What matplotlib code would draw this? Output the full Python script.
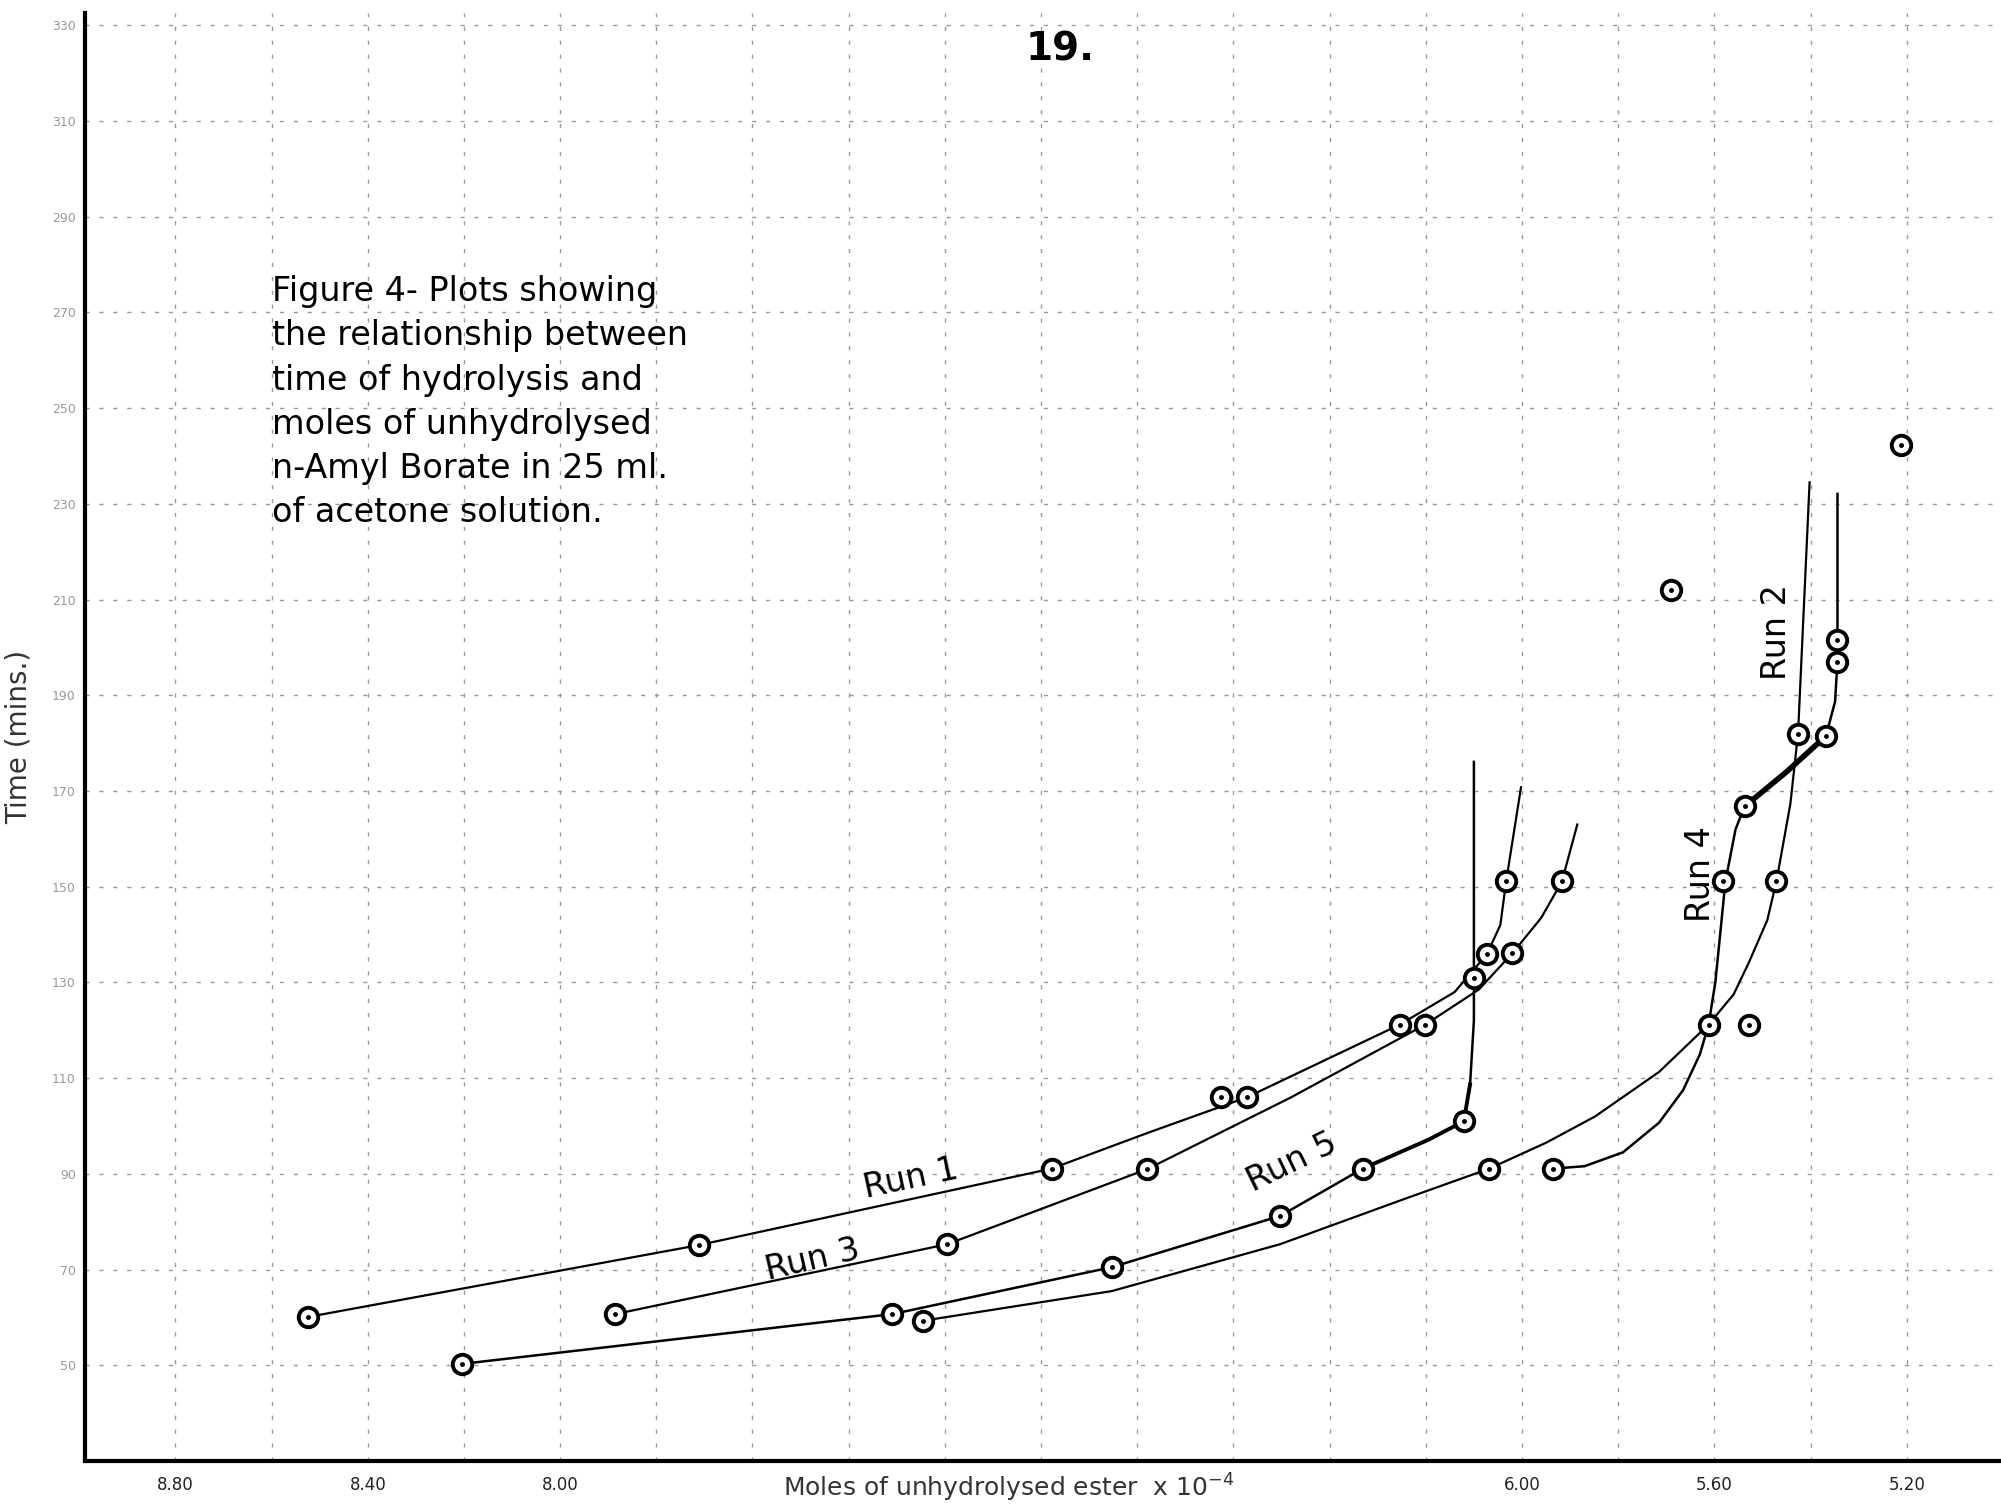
import numpy as np
import matplotlib
matplotlib.use('Agg')
import matplotlib.pyplot as plt
from matplotlib.ticker import MultipleLocator

# moles of unhydrolysed ester (x 10^-4) vs time of hydrolysis (mins)
run1_x = [8.524, 7.712, 6.978, 6.625, 6.572, 6.254, 6.073, 6.033]
run1_y = [60.1, 75.1, 91.1, 106.0, 106.0, 121.2, 135.9, 151.1]

run3_x = [7.885, 7.195, 6.779, 6.201, 6.020, 5.917]
run3_y = [60.7, 75.3, 91.0, 121.2, 136.1, 151.1]

run5_x = [8.203, 7.309, 7.246, 6.853, 6.503, 6.331, 6.121, 6.100]
run5_y = [50.3, 60.7, 59.3, 70.5, 81.2, 91.1, 101.0, 131.0]

run2_x = [6.068, 5.612, 5.471, 5.426]
run2_y = [91.1, 121.2, 151.1, 182.0]

run4_x = [5.935, 5.582, 5.537, 5.368, 5.344, 5.344]
run4_y = [91.1, 151.1, 166.8, 181.5, 197.0, 201.5]

stray_x = [5.529, 5.691, 5.211]
stray_y = [121.2, 212.0, 242.3]

# hand drawn curves through the points
curve1_x = [8.524, 7.712, 6.978, 6.780, 6.572, 6.254, 6.140, 6.073, 6.045, 6.033, 6.002]
curve1_y = [60.1, 75.1, 91.1, 98.5, 106.0, 121.2, 128.0, 135.9, 142.0, 151.1, 170.8]

curve3_x = [7.885, 7.195, 6.779, 6.480, 6.201, 6.090, 6.020, 5.960, 5.917, 5.885]
curve3_y = [60.7, 75.3, 91.0, 106.0, 121.2, 128.5, 136.1, 143.5, 151.1, 163.0]

curve5_x = [8.203, 7.309, 6.853, 6.503, 6.331, 6.193, 6.121, 6.108, 6.100, 6.100, 6.100]
curve5_y = [50.3, 60.7, 70.5, 81.2, 91.1, 97.2, 101.0, 108.7, 122.0, 131.0, 176.1]

curve2_x = [7.246, 6.853, 6.503, 6.246, 6.068, 5.950, 5.848, 5.715, 5.612, 5.560, 5.529, 5.490, 5.471, 5.442, 5.426, 5.402]
curve2_y = [59.3, 65.5, 75.3, 84.7, 91.1, 96.5, 102.0, 111.3, 121.2, 127.5, 134.0, 143.0, 151.1, 167.3, 182.0, 234.5]

curve4_x = [5.935, 5.870, 5.790, 5.715, 5.665, 5.630, 5.612, 5.598, 5.590, 5.577, 5.556, 5.537, 5.450, 5.368, 5.349, 5.344, 5.344, 5.344]
curve4_y = [91.1, 91.6, 94.5, 100.7, 107.5, 115.0, 121.2, 130.0, 138.0, 151.1, 162.0, 166.8, 174.0, 181.5, 188.7, 197.0, 201.5, 232.1]

xtick_vals = [8.80, 8.40, 8.00, 6.00, 5.60, 5.20]
xtick_labels = ['8.80', '8.40', '8.00', '6.00', '5.60', '5.20']
ytick_vals = list(range(50, 331, 20))

run_labels = ['Run 1', 'Run 3', 'Run 5', 'Run 4', 'Run 2']
label_x = [7.270, 7.476, 6.479, 5.628, 5.471]
label_y = [88.9, 72.1, 92.4, 152.7, 203.3]
label_rot = [12, 13, 26, 90, 90]

note = ("Figure 4- Plots showing\n"
        "the relationship between\n"
        "time of hydrolysis and\n"
        "moles of unhydrolysed\n"
        "n-Amyl Borate in 25 ml.\n"
        "of acetone solution.")

fig = plt.figure(figsize=(20.01, 15.04), dpi=100)
ax = fig.add_axes([0.0427, 0.0286, 0.9573, 0.9628])

ax.set_xlim(8.987, 5.004)
ax.set_ylim(30, 332.6)

# graph paper grid
ax.set_xticks(xtick_vals)
ax.set_xticklabels(xtick_labels)
ax.xaxis.set_minor_locator(MultipleLocator(0.2))
ax.set_yticks(ytick_vals)
ax.set_yticklabels([str(v) for v in ytick_vals])
ax.grid(which='both', color='#9a9a9a', lw=1.0, ls=(0, (3, 7)))
ax.set_axisbelow(True)
ax.tick_params(which='both', length=0)
ax.tick_params(axis='x', pad=11, labelsize=12, labelcolor='#222222')
ax.tick_params(axis='y', pad=7, labelsize=9, labelcolor='#999999')

for s in ['top', 'right']:
    ax.spines[s].set_visible(False)
for s in ['left', 'bottom']:
    ax.spines[s].set_linewidth(3)
    ax.spines[s].set_color('black')

# curves
ax.plot(curve1_x, curve1_y, color='black', lw=1.6)
ax.plot(curve3_x, curve3_y, color='black', lw=1.6)
ax.plot(curve5_x, curve5_y, color='black', lw=1.8)
ax.plot(curve5_x[4:8], curve5_y[4:8], color='black', lw=2.8)
ax.plot(curve2_x, curve2_y, color='black', lw=1.6)
ax.plot(curve4_x, curve4_y, color='black', lw=1.8)
ax.plot(curve4_x[11:14], curve4_y[11:14], color='black', lw=4)

# points: open circle with a dot
for px, py in [(run1_x, run1_y), (run3_x, run3_y), (run5_x, run5_y),
               (run2_x, run2_y), (run4_x, run4_y), (stray_x, stray_y)]:
    ax.plot(px, py, 'o', ms=14, mfc='white', mec='black', mew=2.8, zorder=3)
    ax.plot(px, py, '.', ms=5, color='black', zorder=4)

for t, lx, ly, r in zip(run_labels, label_x, label_y, label_rot):
    ax.text(lx, ly, t, rotation=r, fontsize=24, ha='center', va='center',
            rotation_mode='anchor')

fig.text(0.136, 0.817, note, fontsize=24, ha='left', va='top', linespacing=1.43)
fig.text(0.530, 0.967, '19.', fontsize=28, ha='center', va='center', weight='bold')
fig.text(0.504, 0.011, 'Moles of unhydrolysed ester  x 10$^{-4}$', fontsize=18,
         ha='center', va='center', color='#333333')
fig.text(0.0095, 0.51, 'Time (mins.)', fontsize=20, rotation=90,
         ha='center', va='center', color='#333333')

fig.savefig('out.png', dpi=100)
